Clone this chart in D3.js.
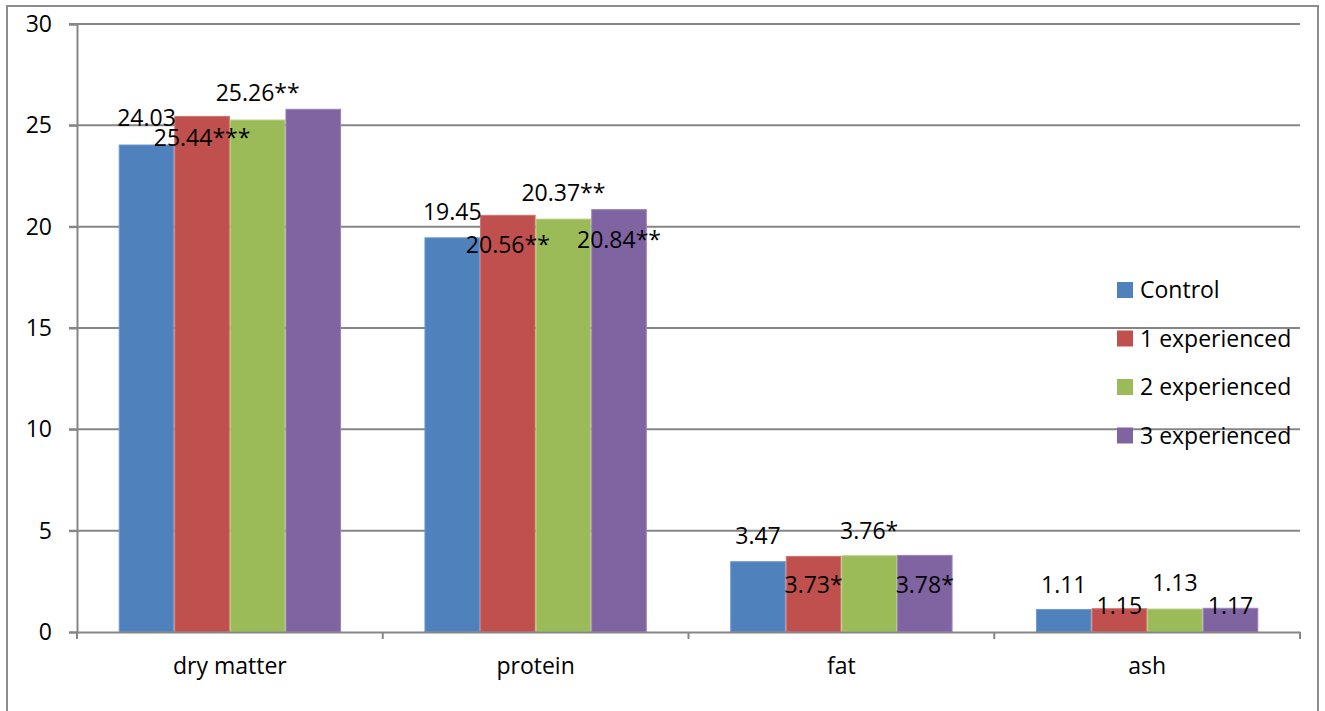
<!DOCTYPE html>
<html>
<head>
<meta charset="utf-8">
<script src="https://cdn.jsdelivr.net/npm/d3@7"></script>
<style>
  html, body { margin: 0; padding: 0; background: #fff; }
  svg { display: block; font-family: "Open Sans", "Noto Sans", sans-serif; }
</style>
</head>
<body>
<svg id="chart" width="1325" height="711"></svg>
<script>
// Chart data
const categories = ["dry matter", "protein", "fat", "ash"];
const seriesNames = ["Control", "1 experienced", "2 experienced", "3 experienced"];
const control      = [24.03, 19.45, 3.47, 1.11];
const experienced1 = [25.44, 20.56, 3.73, 1.15];
const experienced2 = [25.26, 20.37, 3.76, 1.13];
const experienced3 = [25.79, 20.84, 3.78, 1.17];
// Value labels as printed (null = no label shown)
const labelsControl = ["24.03", "19.45", "3.47", "1.11"];
const labels1 = ["25.44***", "20.56**", "3.73*", "1.15"];
const labels2 = ["25.26**", "20.37**", "3.76*", "1.13"];
const labels3 = [null, "20.84**", "3.78*", "1.17"];
const yTicks = [0, 5, 10, 15, 20, 25, 30];

// Vertical placement of each value label relative to its bar top (px)
const labelShift = [
  [-27, -26, -26, -25],
  [22, 30, 29, -3],
  [-27, -26, -25, -26],
  [0, 30, 30, -2]
];

const colors = ["#4F81BD", "#C0504D", "#9BBB59", "#8064A2"];
const edge = ["#6F9BD1", "#D47370", "#B2CD7A", "#9A82BA"];

const series = [control, experienced1, experienced2, experienced3];
const seriesLabels = [labelsControl, labels1, labels2, labels3];

const svg = d3.select("#chart");
const plot = { left: 77, right: 1300, top: 24, bottom: 632 };
const fontSize = 23;
const gridColor = "#868686";

// Outer frame
svg.append("rect")
  .attr("x", 7).attr("y", 6)
  .attr("width", 1311).attr("height", 720)
  .attr("fill", "none").attr("stroke", "#8c8c8c").attr("stroke-width", 2);

const x0 = d3.scaleBand().domain(categories).range([plot.left, plot.right]).paddingInner(0).paddingOuter(0);
const groupPad = 0.75 / 5.5; // gap on each side of a group, as fraction of category width
const x1 = d3.scaleBand().domain(d3.range(seriesNames.length))
  .range([x0.bandwidth() * groupPad, x0.bandwidth() * (1 - groupPad)]).padding(0);
const y = d3.scaleLinear().domain([0, 30]).range([plot.bottom, plot.top]);

// Horizontal gridlines
svg.append("g").selectAll("line").data(yTicks.filter(d => d > 0)).join("line")
  .attr("x1", plot.left - 8).attr("x2", plot.right)
  .attr("y1", d => y(d)).attr("y2", d => y(d))
  .attr("stroke", gridColor).attr("stroke-width", 2);

// Y axis
const yAxis = svg.append("g").attr("transform", `translate(${plot.left},0)`)
  .call(d3.axisLeft(y).tickValues(yTicks).tickSize(8).tickPadding(17).tickFormat(d3.format("d")));
yAxis.select(".domain").attr("stroke", gridColor).attr("stroke-width", 2);
yAxis.selectAll(".tick line").attr("stroke", gridColor).attr("stroke-width", 2);
yAxis.selectAll(".tick text").attr("font-size", fontSize).attr("fill", "#000")
  .attr("font-family", "'Open Sans', sans-serif");

// Bars
const groups = svg.append("g").selectAll("g").data(categories).join("g")
  .attr("transform", d => `translate(${x0(d)},0)`);

groups.each(function(cat, ci) {
  const g = d3.select(this);
  series.forEach((vals, si) => {
    g.append("rect")
      .attr("x", x1(si) + 0.5)
      .attr("y", y(vals[ci]))
      .attr("width", x1.bandwidth() - 1)
      .attr("height", y(0) - y(vals[ci]))
      .attr("fill", colors[si])
      .attr("stroke", edge[si]).attr("stroke-width", 1);
  });
});

// X axis
const xAxis = svg.append("g").attr("transform", `translate(0,${plot.bottom})`)
  .call(d3.axisBottom(x0).tickSize(0).tickPadding(26));
xAxis.select(".domain").attr("stroke", gridColor).attr("stroke-width", 2);
xAxis.selectAll(".tick text").attr("font-size", fontSize).attr("fill", "#000")
  .attr("font-family", "'Open Sans', sans-serif");
// Category boundary tick marks
const bounds = categories.map(c => x0(c)).concat([plot.right]);
svg.append("g").selectAll("line").data(bounds).join("line")
  .attr("x1", d => d).attr("x2", d => d)
  .attr("y1", plot.bottom).attr("y2", plot.bottom + 7)
  .attr("stroke", gridColor).attr("stroke-width", 2);

// Value labels
groups.each(function(cat, ci) {
  const g = d3.select(this);
  series.forEach((vals, si) => {
    const txt = seriesLabels[si][ci];
    if (!txt) return;
    g.append("text")
      .attr("x", x1(si) + x1.bandwidth() / 2)
      .attr("y", y(vals[ci]) + labelShift[si][ci])
      .attr("dy", "0.35em")
      .attr("text-anchor", "middle")
      .attr("font-size", fontSize)
      .attr("fill", "#000")
      .text(txt);
  });
});

// Legend
const legend = svg.append("g").attr("transform", "translate(1117,290)");
const rows = legend.selectAll("g").data(seriesNames).join("g")
  .attr("transform", (d, i) => `translate(0,${i * 48.5})`);
rows.append("rect").attr("x", 0).attr("y", -8).attr("width", 16).attr("height", 16)
  .attr("fill", (d, i) => colors[i]);
rows.append("text").attr("x", 23).attr("dy", "0.35em")
  .attr("font-size", fontSize).attr("fill", "#000").text(d => d);
</script>
</body>
</html>
